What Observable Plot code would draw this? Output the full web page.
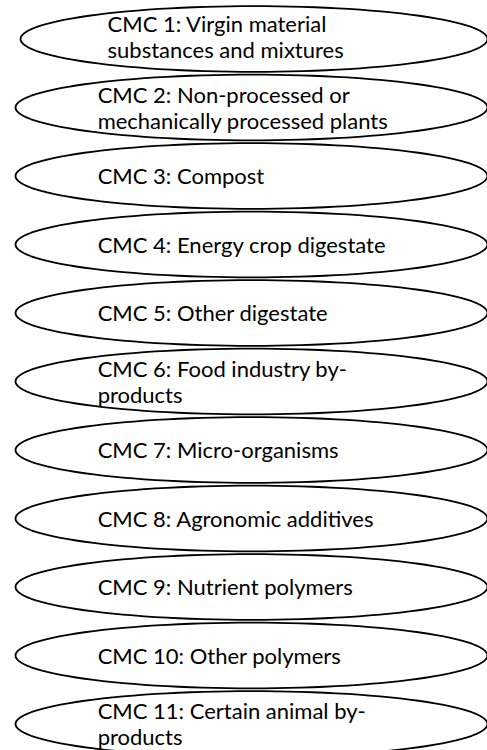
<!DOCTYPE html>
<html><head><meta charset="utf-8">
<script src="https://cdn.jsdelivr.net/npm/d3@7"></script>
<script src="https://cdn.jsdelivr.net/npm/@observablehq/plot@0.6"></script>
<style>body{margin:0;background:#fff}#chart svg{display:block}</style>
</head><body><div id="chart"></div>
<script>
// Categories (component material categories)
const rows = [1,2,3,4,5,6,7,8,9,10,11];
const labels = [
  "CMC 1: Virgin material\nsubstances and mixtures",
  "CMC 2: Non-processed or\nmechanically processed plants",
  "CMC 3: Compost",
  "CMC 4: Energy crop digestate",
  "CMC 5: Other digestate",
  "CMC 6: Food industry by-\nproducts",
  "CMC 7: Micro-organisms",
  "CMC 8: Agronomic additives",
  "CMC 9: Nutrient polymers",
  "CMC 10: Other polymers",
  "CMC 11: Certain animal by-\nproducts"
];

const W = 487, H = 750;
const ry = 0.48;            // ellipse half-height in row units
const steps = d3.range(0, 121).map(i => i / 120 * 2 * Math.PI);

const outline = rows.flatMap(r => steps.map(t => {
  const left = r === 1 ? 0.0106 : 0;
  const half = (1 - left) / 2;
  return {row: r, x: left + half + half * Math.cos(t), y: r + ry * Math.sin(t)};
}));

const table = rows.map((r, i) => ({row: r, label: labels[i]}));

const chart = Plot.plot({
  width: W, height: H,
  marginLeft: 15, marginRight: 0, marginTop: 38.5, marginBottom: 26.5,
  x: {domain: [0, 1], axis: null},
  y: {domain: [1, 11], reverse: true, axis: null},
  style: {background: "#fff", overflow: "visible"},
  marks: [
    Plot.line(outline, {x: "x", y: "y", z: "row", curve: "linear-closed", stroke: "#000", strokeWidth: 1.8, fill: "none"}),
    Plot.text(table, {
      x: d => d.row === 1 ? 0.195 : 0.174,
      y: d => d.row === 1 ? 0.96 : d.row,
      text: "label",
      textAnchor: "start",
      lineAnchor: "middle",
      lineHeight: 1.18,
      fontSize: 22,
      fontFamily: "Lato",
      fill: "#000"
    })
  ]
});
document.getElementById("chart").appendChild(chart);
</script>
</body></html>
